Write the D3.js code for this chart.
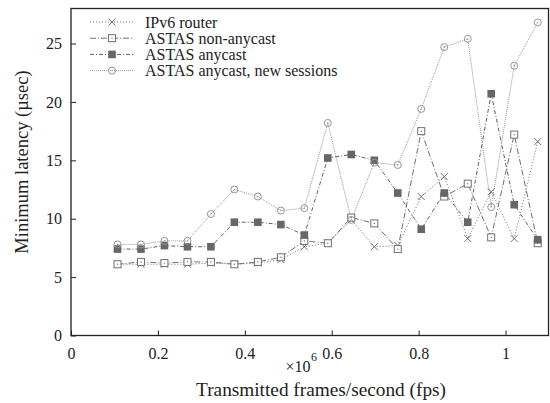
<!DOCTYPE html>
<html>
<head>
<meta charset="utf-8">
<script src="https://cdn.jsdelivr.net/npm/d3@7"></script>
<style>
  body { margin: 0; background: #fff; }
  svg text { font-family: "Liberation Serif", "Times New Roman", Times, "DejaVu Serif", serif; fill: #222; }
</style>
</head>
<body>
<script>
// Size of the page
var width = 550;
var height = 403;
var serif = "'Liberation Serif', 'Times New Roman', Times, 'DejaVu Serif', serif";

// Transmitted frames/second (x values)
var fps = [0.107e6, 0.161e6, 0.215e6, 0.268e6, 0.322e6, 0.376e6, 0.430e6, 0.483e6, 0.537e6,
  0.591e6, 0.645e6, 0.698e6, 0.752e6, 0.806e6, 0.859e6, 0.913e6, 0.967e6, 1.020e6, 1.074e6];

// Minimum latency per series (usec)
var ipv6Router = [6.1, 6.1, 6.1, 6.1, 6.2, 6.1, 6.2, 6.5, 7.6, 7.9, 9.9, 7.6, 7.7, 11.9, 13.6, 8.3, 12.3, 8.3, 16.6];
var nonAnycast = [6.1, 6.3, 6.2, 6.3, 6.3, 6.1, 6.3, 6.7, 8.1, 7.9, 10.1, 9.6, 7.4, 17.5, 11.9, 13.0, 8.4, 17.2, 7.9];
var anycast = [7.4, 7.4, 7.7, 7.6, 7.6, 9.7, 9.7, 9.5, 8.6, 15.2, 15.5, 15.0, 12.2, 9.1, 12.2, 9.7, 20.7, 11.2, 8.2];
var newSessions = [7.8, 7.8, 8.1, 8.1, 10.4, 12.5, 11.9, 10.7, 10.9, 18.2, 9.9, 14.8, 14.6, 19.4, 24.7, 25.4, 11.0, 23.1, 26.8];

var seriesNames = ["IPv6 router", "ASTAS non-anycast", "ASTAS anycast", "ASTAS anycast, new sessions"];
var xTicks = [0, 0.2e6, 0.4e6, 0.6e6, 0.8e6, 1e6];
var yTicks = [0, 5, 10, 15, 20, 25];

var series = [
  {name: seriesNames[0], values: ipv6Router, marker: "cross", dash: "1,2", color: "#707070"},
  {name: seriesNames[1], values: nonAnycast, marker: "square", dash: "6,2,1,2", color: "#707070"},
  {name: seriesNames[2], values: anycast, marker: "filled", dash: "4,2,1,2", color: "#606060"},
  {name: seriesNames[3], values: newSessions, marker: "circle", dash: "1,1", color: "#959595"}
];

var svg = d3.select("body")
  .append("svg")
  .attr("width", width)
  .attr("height", height)
  .attr("font-family", serif);

var x = d3.scaleLinear().domain([0, 1.1e6]).range([71, 549]);
var y = d3.scaleLinear().domain([0, 28]).range([335.5, 8.5]);

// axes with inward ticks
var xAxis = svg.append("g")
  .attr("transform", "translate(0," + y(0) + ")")
  .call(d3.axisBottom(x).tickValues(xTicks).tickSizeInner(-5).tickSizeOuter(0).tickPadding(12)
    .tickFormat(function(d) { return d3.format("~g")(d / 1e6); }));

var yAxis = svg.append("g")
  .attr("transform", "translate(" + x(0) + ",0)")
  .call(d3.axisLeft(y).tickValues(yTicks).tickSizeInner(-5).tickSizeOuter(0).tickPadding(9));

[xAxis, yAxis].forEach(function(g) {
  g.attr("font-family", serif).attr("font-size", 16);
  g.select(".domain").remove();
  g.selectAll(".tick line").attr("stroke", "#222").attr("stroke-width", 1);
  g.selectAll(".tick text").attr("fill", "#222");
});

// frame
svg.append("rect")
  .attr("x", x(0))
  .attr("y", y(28))
  .attr("width", x(1.1e6) - x(0) - 0.5)
  .attr("height", y(0) - y(28))
  .attr("fill", "none")
  .attr("stroke", "#222")
  .attr("stroke-width", 1.3);

// axis titles
svg.append("text")
  .attr("x", 298)
  .attr("y", 372)
  .attr("text-anchor", "middle")
  .attr("font-size", 16)
  .text("×10");
svg.append("text")
  .attr("x", 311)
  .attr("y", 361)
  .attr("font-size", 12)
  .text("6");

svg.append("text")
  .attr("x", 321)
  .attr("y", 396)
  .attr("text-anchor", "middle")
  .attr("font-size", 19.3)
  .text("Transmitted frames/second (fps)");

svg.append("text")
  .attr("transform", "translate(28,162) rotate(-90)")
  .attr("text-anchor", "middle")
  .attr("font-size", 18.5)
  .text("Minimum latency (µsec)");

function drawMarker(g, type, color) {
  if (type === "cross") {
    g.append("path").attr("d", "M-3.5,-3.5L3.5,3.5M-3.5,3.5L3.5,-3.5")
      .attr("stroke", color).attr("stroke-width", 1).attr("fill", "none");
  } else if (type === "square") {
    g.append("rect").attr("x", -3.5).attr("y", -3.5).attr("width", 7).attr("height", 7)
      .attr("fill", "#fff").attr("stroke", color).attr("stroke-width", 1);
    g.append("circle").attr("r", 0.7).attr("fill", color);
  } else if (type === "filled") {
    g.append("rect").attr("x", -3.8).attr("y", -3.8).attr("width", 7.6).attr("height", 7.6)
      .attr("fill", "#666").attr("stroke", "none");
  } else {
    g.append("circle").attr("r", 3.5)
      .attr("fill", "none").attr("stroke", color).attr("stroke-width", 1);
    g.append("circle").attr("r", 0.7).attr("fill", color);
  }
}

var line = d3.line()
  .x(function(d, i) { return x(fps[i]); })
  .y(function(d) { return y(d); });

series.forEach(function(s) {
  svg.append("path")
    .datum(s.values)
    .attr("d", line)
    .attr("fill", "none")
    .attr("stroke", s.color)
    .attr("stroke-width", 1)
    .attr("stroke-dasharray", s.dash);
});

series.forEach(function(s) {
  svg.selectAll(null)
    .data(s.values)
    .enter()
    .append("g")
    .attr("transform", function(d, i) { return "translate(" + x(fps[i]) + "," + y(d) + ")"; })
    .each(function() { drawMarker(d3.select(this), s.marker, s.color); });
});

// legend
var legend = svg.append("g");
series.forEach(function(s, i) {
  var ly = 22 + i * 16.2;
  legend.append("line")
    .attr("x1", 90).attr("x2", 134)
    .attr("y1", ly).attr("y2", ly)
    .attr("stroke", s.color)
    .attr("stroke-width", 1)
    .attr("stroke-dasharray", s.dash);
  var m = legend.append("g").attr("transform", "translate(112," + ly + ")");
  drawMarker(m, s.marker, s.color);
  legend.append("text")
    .attr("x", 145)
    .attr("y", ly + 5.5)
    .attr("font-size", 16)
    .text(s.name);
});
</script>
</body>
</html>
